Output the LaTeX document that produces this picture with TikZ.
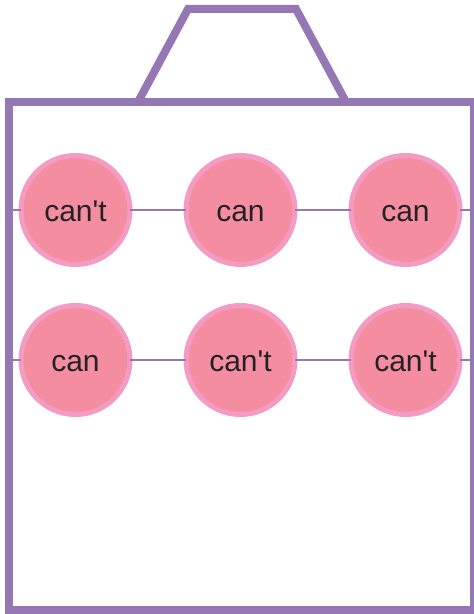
\documentclass[tikz,border=0pt]{standalone}
\usepackage{fontspec}
\setmainfont{Liberation Sans}
\usepackage{tikz}
\usetikzlibrary{positioning}
\definecolor{BoxPurple}{HTML}{9577B3}
\definecolor{CanFill}{HTML}{F48DA0}
\definecolor{CanEdge}{HTML}{F49BC3}
\definecolor{CanText}{HTML}{222222}
\tikzset{
  frame/.style={draw=BoxPurple,line width=8pt,line join=miter},
  can/.style={circle,draw=CanEdge,fill=CanFill,line width=5pt,minimum size=109pt,
              inner sep=0pt,outer sep=0pt,text=CanText,text height=24pt,text depth=0pt,
              font=\fontsize{30}{36}\selectfont},
  link/.style={draw=BoxPurple,line width=2.8pt}
}
\begin{document}
\begin{tikzpicture}[x=1pt,y=1pt,node distance=41pt and 56pt]
  \useasboundingbox (0,0) rectangle (474,614);
  \draw[frame] (9,4) rectangle (474,512);
  \draw[frame] (138,512) -- (188,605) -- (296,605) -- (346,512);

  \node[can] (c11) at (75.5,404) {can\textquotesingle t};
  \node[can,right=of c11] (c12) {can};
  \node[can,right=of c12] (c13) {can};
  \node[can,below=of c11] (c21) {can};
  \node[can,right=of c21] (c22) {can\textquotesingle t};
  \node[can,right=of c22] (c23) {can\textquotesingle t};

  \coordinate (left1) at (9,404);
  \coordinate (right1) at (474,404);
  \coordinate (left2) at (9,254);
  \coordinate (right2) at (474,254);

  \draw[link] (left1) -- (c11);
  \draw[link] (c11) -- (c12);
  \draw[link] (c12) -- (c13);
  \draw[link] (c13) -- (right1);
  \draw[link] (left2) -- (c21);
  \draw[link] (c21) -- (c22);
  \draw[link] (c22) -- (c23);
  \draw[link] (c23) -- (right2);
\end{tikzpicture}
\end{document}
